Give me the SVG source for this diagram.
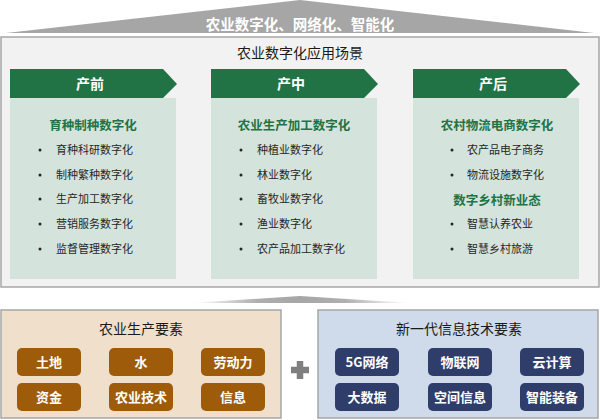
<svg xmlns="http://www.w3.org/2000/svg" width="600" height="420" viewBox="0 0 600 420">
<defs>
<linearGradient id="fade" x1="0" y1="0" x2="1" y2="0">
<stop offset="0" stop-color="#a6a6a6" stop-opacity="0"/>
<stop offset="0.3" stop-color="#a6a6a6" stop-opacity="0.9"/>
<stop offset="0.5" stop-color="#a6a6a6"/>
<stop offset="0.7" stop-color="#a6a6a6" stop-opacity="0.9"/>
<stop offset="1" stop-color="#a6a6a6" stop-opacity="0"/>
</linearGradient>
<style>
text{font-family:"Microsoft YaHei","Noto Sans CJK SC",sans-serif;}
.roof{fill:#a6a6a6;}
.rooft{fill:#fff;font-size:14.5px;font-weight:bold;text-anchor:middle;}
.main{fill:#f2f2f2;stroke:#a6a6a6;stroke-width:1.5;}
.title{fill:#1a1a1a;font-size:14px;text-anchor:middle;}
.hdr{fill:#217346;}
.hdrt{fill:#fff;font-size:14px;font-weight:bold;text-anchor:middle;}
.panel{fill:#d4e3dc;}
.sub{fill:#217346;font-size:12.5px;font-weight:bold;text-anchor:middle;}
.item{fill:#262626;font-size:11px;}
.dot{fill:#262626;}
.bl{fill:#f0e0cb;stroke:#a6a6a6;stroke-width:1.5;}
.br{fill:#cfdaea;stroke:#a6a6a6;stroke-width:1.5;}
.btnb{fill:#9e5c0b;}
.btnn{fill:#2f3d6b;}
.bt{fill:#fff;font-size:13px;font-weight:bold;text-anchor:middle;}
</style>
</defs>

<g id="roof">
<polygon class="roof" points="6,33 300,0 594,33"/>
<text class="rooft" x="300" y="30">农业数字化、网络化、智能化</text>
</g>

<g id="scenarios">
<rect class="main" x="1" y="37" width="598" height="250"/>
<text class="title" x="300" y="58">农业数字化应用场景</text>
</g>

<g id="col-pre">
<rect class="panel" x="10" y="98" width="166" height="181"/>
<polygon class="hdr" points="10,69 163,69 177,84 163,98 10,98"/>
<text class="hdrt" x="90" y="89">产前</text>
<text class="sub" x="93" y="130">育种制种数字化</text>
<circle class="dot" cx="40" cy="150" r="1.5"/><text class="item" x="56" y="154">育种科研数字化</text>
<circle class="dot" cx="40" cy="175" r="1.5"/><text class="item" x="56" y="179">制种繁种数字化</text>
<circle class="dot" cx="40" cy="199" r="1.5"/><text class="item" x="56" y="203">生产加工数字化</text>
<circle class="dot" cx="40" cy="224" r="1.5"/><text class="item" x="56" y="228">营销服务数字化</text>
<circle class="dot" cx="40" cy="249" r="1.5"/><text class="item" x="56" y="253">监督管理数字化</text>
</g>

<g id="col-mid">
<rect class="panel" x="211" y="98" width="166" height="181"/>
<polygon class="hdr" points="211,69 364,69 378,84 364,98 211,98"/>
<text class="hdrt" x="291" y="89">产中</text>
<text class="sub" x="294" y="130">农业生产加工数字化</text>
<circle class="dot" cx="241" cy="150" r="1.5"/><text class="item" x="257" y="154">种植业数字化</text>
<circle class="dot" cx="241" cy="175" r="1.5"/><text class="item" x="257" y="179">林业数字化</text>
<circle class="dot" cx="241" cy="199" r="1.5"/><text class="item" x="257" y="203">畜牧业数字化</text>
<circle class="dot" cx="241" cy="224" r="1.5"/><text class="item" x="257" y="228">渔业数字化</text>
<circle class="dot" cx="241" cy="249" r="1.5"/><text class="item" x="257" y="253">农产品加工数字化</text>
</g>

<g id="col-post">
<rect class="panel" x="413" y="98" width="166" height="181"/>
<polygon class="hdr" points="413,69 566,69 580,84 566,98 413,98"/>
<text class="hdrt" x="493" y="89">产后</text>
<text class="sub" x="497" y="130">农村物流电商数字化</text>
<circle class="dot" cx="452" cy="150" r="1.5"/><text class="item" x="467" y="154">农产品电子商务</text>
<circle class="dot" cx="452" cy="175" r="1.5"/><text class="item" x="467" y="179">物流设施数字化</text>
<text class="sub" x="497" y="205">数字乡村新业态</text>
<circle class="dot" cx="452" cy="224" r="1.5"/><text class="item" x="467" y="228">智慧认养农业</text>
<circle class="dot" cx="452" cy="249" r="1.5"/><text class="item" x="467" y="253">智慧乡村旅游</text>
</g>

<g id="base-roof">
<polygon points="192,303 300,296 410,303" fill="url(#fade)"/>
</g>

<g id="agri-factors">
<rect class="bl" x="1" y="310" width="280" height="108"/>
<text class="title" x="141" y="334">农业生产要素</text>
<rect class="btnb" x="17" y="348" width="64" height="28" rx="5"/><text class="bt" x="49" y="367">土地</text>
<rect class="btnb" x="109" y="348" width="64" height="28" rx="5"/><text class="bt" x="141" y="367">水</text>
<rect class="btnb" x="201" y="348" width="64" height="28" rx="5"/><text class="bt" x="233" y="367">劳动力</text>
<rect class="btnb" x="17" y="383" width="64" height="28" rx="5"/><text class="bt" x="49" y="402">资金</text>
<rect class="btnb" x="109" y="383" width="64" height="28" rx="5"/><text class="bt" x="141" y="402">农业技术</text>
<rect class="btnb" x="201" y="383" width="64" height="28" rx="5"/><text class="bt" x="233" y="402">信息</text>
</g>

<g id="plus">
<path d="M300,361 V379 M291,370 H309" stroke="#7f7f7f" stroke-width="6.5" fill="none"/>
</g>

<g id="info-factors">
<rect class="br" x="318" y="310" width="280" height="108"/>
<text class="title" x="459" y="334">新一代信息技术要素</text>
<rect class="btnn" x="335" y="348" width="64" height="28" rx="5"/><text class="bt" x="367" y="367">5G网络</text>
<rect class="btnn" x="428" y="348" width="64" height="28" rx="5"/><text class="bt" x="460" y="367">物联网</text>
<rect class="btnn" x="520" y="348" width="64" height="28" rx="5"/><text class="bt" x="552" y="367">云计算</text>
<rect class="btnn" x="335" y="383" width="64" height="28" rx="5"/><text class="bt" x="367" y="402">大数据</text>
<rect class="btnn" x="428" y="383" width="64" height="28" rx="5"/><text class="bt" x="460" y="402">空间信息</text>
<rect class="btnn" x="520" y="383" width="64" height="28" rx="5"/><text class="bt" x="552" y="402">智能装备</text>
</g>
</svg>
